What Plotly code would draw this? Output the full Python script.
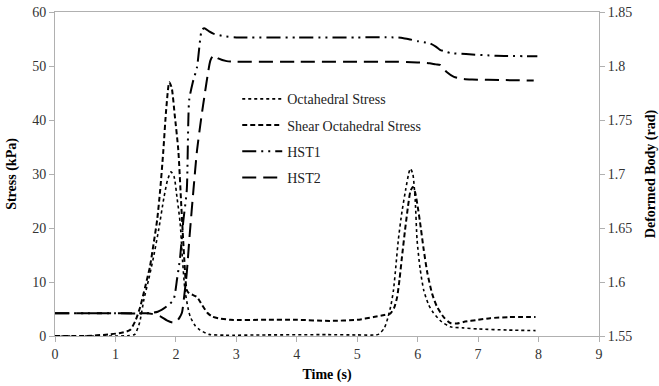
import plotly.graph_objects as go

# Octahedral Stress (kPa)
oct_t = [0, 0.5, 1.0, 1.2, 1.32, 1.4, 1.47, 1.55, 1.63, 1.72, 1.8, 1.86, 1.92, 1.97, 2.02, 2.07, 2.11, 2.15, 2.2, 2.24, 2.32, 2.4, 2.55, 2.8, 3.5, 4.5, 5.0, 5.35, 5.45, 5.51, 5.56, 5.6, 5.64, 5.68, 5.74, 5.8, 5.85, 5.88, 5.92, 5.96, 5.99, 6.04, 6.1, 6.18, 6.26, 6.4, 6.54, 6.75, 7.0, 7.5, 7.95]
oct_v = [0, 0, 0, 0.05, 0.3, 2.5, 6.7, 10.5, 14.6, 20, 25.5, 28.8, 30.4, 29.5, 25.5, 21, 14, 8.5, 5.2, 3.5, 1.9, 1.1, 0.3, 0.15, 0.2, 0.25, 0.2, 0.3, 1.5, 3.5, 5.8, 8.5, 13, 17.8, 23, 27, 30, 31, 30, 25, 17.8, 12.5, 8.5, 5.8, 4.3, 2.6, 1.7, 1.5, 1.3, 1.1, 1.0]

# Shear Octahedral Stress (kPa)
shear_t = [0, 0.5, 0.9, 1.1, 1.24, 1.33, 1.41, 1.49, 1.57, 1.63, 1.69, 1.74, 1.79, 1.84, 1.89, 1.93, 1.98, 2.04, 2.09, 2.14, 2.18, 2.22, 2.28, 2.35, 2.43, 2.52, 2.6, 2.7, 2.9, 3.5, 4.0, 4.55, 5.0, 5.27, 5.45, 5.55, 5.61, 5.66, 5.7, 5.74, 5.79, 5.84, 5.88, 5.92, 5.96, 6.0, 6.04, 6.1, 6.16, 6.24, 6.32, 6.43, 6.54, 6.65, 6.76, 7.0, 7.2, 7.5, 7.95]
shear_v = [0, 0, 0.3, 0.6, 1.1, 2.8, 5.4, 9, 12.8, 17, 21.5, 27, 34, 42, 47, 46, 41, 34.4, 24, 14, 8.5, 7.9, 7.6, 7.2, 5.8, 4.3, 3.6, 3.3, 3.0, 3.0, 3.0, 2.8, 3.0, 3.5, 3.9, 4.2, 5.2, 7.2, 10.5, 14.6, 19.5, 24, 26.8, 27.6, 26.5, 24, 21, 16, 11.7, 7.8, 5.4, 3.5, 2.4, 2.3, 2.6, 3.0, 3.3, 3.5, 3.5]

# HST1 (rad)
hst1_t = [0, 0.5, 1.0, 1.5, 1.7, 1.85, 1.96, 2.02, 2.07, 2.12, 2.18, 2.22, 2.28, 2.35, 2.43, 2.47, 2.55, 2.62, 2.8, 3.0, 4.0, 5.0, 5.6, 5.75, 5.88, 6.0, 6.1, 6.2, 6.3, 6.37, 6.45, 6.54, 6.8, 7.3, 7.98]
hst1_v = [1.571, 1.571, 1.571, 1.571, 1.5725, 1.5775, 1.5835, 1.603, 1.623, 1.655, 1.685, 1.7685, 1.785, 1.799, 1.8335, 1.835, 1.832, 1.83, 1.8275, 1.8265, 1.8265, 1.8265, 1.8265, 1.826, 1.8245, 1.823, 1.822, 1.821, 1.818, 1.815, 1.8135, 1.812, 1.811, 1.8095, 1.809]

# HST2 (rad)
hst2_t = [0, 0.5, 1.0, 1.5, 1.6, 1.75, 1.85, 1.95, 2.02, 2.06, 2.1, 2.14, 2.18, 2.23, 2.29, 2.35, 2.42, 2.48, 2.53, 2.57, 2.62, 2.7, 2.84, 3.0, 4.0, 5.0, 5.6, 5.9, 6.1, 6.2, 6.3, 6.37, 6.48, 6.6, 6.76, 6.9, 7.4, 7.92]
hst2_v = [1.571, 1.571, 1.571, 1.571, 1.5705, 1.568, 1.5645, 1.5625, 1.564, 1.567, 1.5715, 1.588, 1.6085, 1.645, 1.685, 1.722, 1.752, 1.775, 1.793, 1.805, 1.81, 1.807, 1.8045, 1.804, 1.804, 1.804, 1.804, 1.8035, 1.803, 1.8025, 1.8015, 1.801, 1.7945, 1.79, 1.788, 1.7875, 1.787, 1.7865]

FONT = "Liberation Serif"
AXC = "#b0b0b0"

fig = go.Figure()
fig.add_trace(go.Scatter(x=oct_t, y=oct_v, mode="lines", name="Octahedral Stress",
                         line=dict(color="black", width=1.6, dash="dot", shape="spline", smoothing=0.6),
                         legendgroup="a"))
fig.add_trace(go.Scatter(x=shear_t, y=shear_v, mode="lines", name="Shear Octahedral Stress",
                         line=dict(color="black", width=2, dash="5px,3px", shape="spline", smoothing=0.6),
                         legendgroup="b"))
fig.add_trace(go.Scatter(x=hst1_t, y=hst1_v, mode="lines", name="HST1", yaxis="y2",
                         line=dict(color="black", width=2, dash="14px,5px,2px,5px,2px,5px", shape="spline", smoothing=0.6),
                         legendgroup="c"))
fig.add_trace(go.Scatter(x=hst2_t, y=hst2_v, mode="lines", name="HST2", yaxis="y2",
                         line=dict(color="black", width=2, dash="14px,7px", shape="spline", smoothing=0.6),
                         legendgroup="d"))

axis_common = dict(showgrid=False, zeroline=False, showline=True, linecolor=AXC, linewidth=1,
                   ticks="outside", tickcolor=AXC, ticklen=5, automargin=False,
                   tickfont=dict(family=FONT, size=14, color="#333333"))

fig.update_layout(
    width=659, height=386,
    margin=dict(l=55, r=60, t=12, b=50),
    paper_bgcolor="white", plot_bgcolor="white",
    font=dict(family=FONT, size=13, color="black"),
    xaxis=dict(range=[0, 9], dtick=1, mirror=True,
               title=dict(text="<b>Time (s)</b>", font=dict(family=FONT, size=14, color="black"), standoff=8),
               **axis_common),
    yaxis=dict(range=[0, 60], dtick=10,
               title=dict(text="<b>Stress (kPa)</b>", font=dict(family=FONT, size=14, color="black"), standoff=12),
               **axis_common),
    yaxis2=dict(range=[1.55, 1.85], dtick=0.05, overlaying="y", side="right", tickformat="~g",
                title=dict(text="<b>Deformed Body (rad)</b>", font=dict(family=FONT, size=14, color="black"), standoff=16),
                **axis_common),
    legend=dict(x=0.335, y=0.78, xanchor="left", yanchor="top", bgcolor="rgba(0,0,0,0)",
                font=dict(family=FONT, size=14, color="#222222"), itemwidth=40,
                tracegroupgap=5, traceorder="grouped"),
    showlegend=True,
)

fig.write_html("out.html")
